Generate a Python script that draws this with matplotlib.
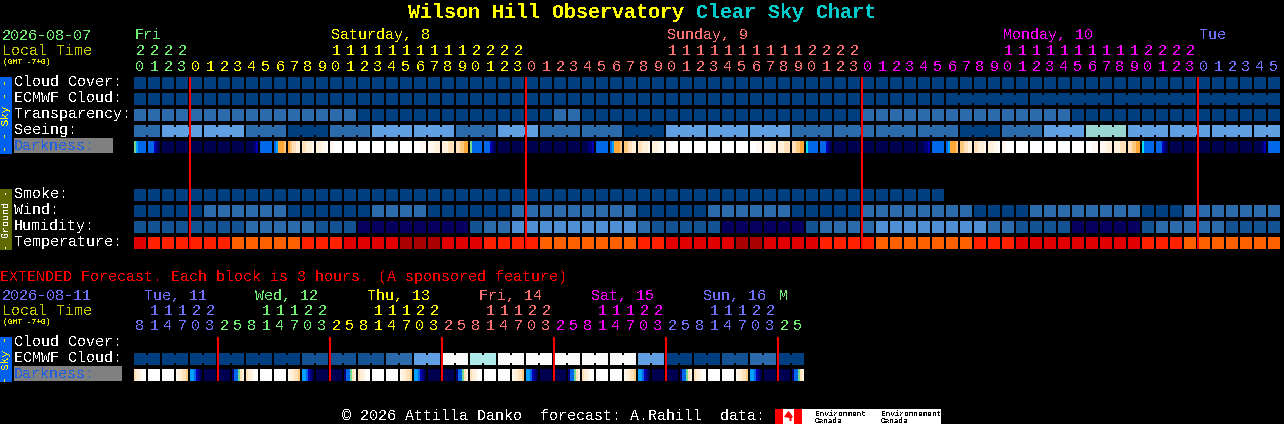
import matplotlib
matplotlib.use("Agg")
import matplotlib.pyplot as plt

plt.rcParams["text.hinting"] = "native"

# level colours used by the blocks
colors = {
    "D": "#003f7f", "E": "#135393", "M": "#2b6bab", "H": "#4f90d5", "L": "#60a0e2",
    "N": "#08005f", "T": "#99d6d2", "P": "#aeeaea", "W": "#fafafa",
    "r": "#e00000", "f": "#ff2000", "o": "#ff6000", "x": "#aa0000",
}
# darkness levels, each letter is 2 px of a block
dark_colors = {
    "a": "#000050", "b": "#00007f", "c": "#0000b8", "d": "#0068e8", "e": "#00a0ff",
    "f": "#00e0e8", "g": "#70d890", "h": "#ffa838", "i": "#ffc880", "j": "#ffe0b8",
    "k": "#fff0dc", "l": "#fff8f0", "m": "#ffffff",
}

cloud = "D" * 82
ecmwf = "D" * 82
transparency = "M" * 16 + "D" * 14 + "MM" + "D" * 20 + "M" * 15 + "D" * 15
seeing = ("MM" "LLL" "LLL" "MMM" "DDD" "MMM" "LLL" "LLL" "MMM" "LLL" "MMM" "MMM" "DDD" "LLL"
          "LLL" "LLL" "MMM" "MMM" "MMM" "MMM" "DDD" "MMM" "LLL" "TTT" "LLL" "LLL" "LLL" "LL")
smoke = "D" * 58
wind = ("DDDDD" "MMMMMM" "DDDDDD" "MMMM" "DDDDDD" "MMMMMMMMM" "DDDDD" "MMMMMM" "DDDDD"
        "MMMMMMMM" "DDDD" "MMMMMMMM" "DDD" "MMMMMMM")
humidity = ("EEEEEEEE" "MMMMM" "EEE" "NNNNNNNN" "E" "MM" "HHHHHHHHH" "M" "EEEEE" "NNNNNN" "E"
            "MMMM" "HHHHHHHH" "MM" "EEEE" "NNNNN" "E" "MMMMM" "EEEE")
temperature = ("r" "ffffff" "ooooo" "fff" "rrrr" "xxx" "rrr" "ffff" "ooooooo" "ff" "rrrrr" "xx"
               "rrrr" "ffff" "ooooooo" "fff" "rrrrrrrrr" "fff" "ooooooo")

ecmwf_groups = [1] * 58 + [6, 6, 6, 6]
seeing_groups = [2] + [3] * 26 + [2]

darkness = [
    "gedddd", "dddcba", "aaaaaa", "aaaaaa", "aaaaaa", "aaaaaa", "aaaaaa", "aaaaaa",
    "aaaabc", "dddddd", "dehhhi", "hijjkk", "jjkkkl", "kkkllm", "llmmmm", "mmmmmm",
    "mmmmmm", "mmmmmm", "mmmmmm", "mmmmmm", "mmmlll", "lllkkk", "kkkjjj", "jjiihh",
    "gddddd", "dddcba", "aaaaaa", "aaaaaa", "aaaaaa", "aaaaaa", "aaaaaa", "aaaaaa",
    "aaabbc", "dddddd", "dehhhi", "iijjkk", "jjkkkl", "kkkllm", "llmmmm", "mmmmmm",
    "mmmmmm", "mmmmmm", "mmmmmm", "mmmmmm", "mmmlll", "lllkkk", "kkkjjj", "jjiihh",
    "fddddd", "dddcba", "aaaaaa", "aaaaaa", "aaaaaa", "aaaaaa", "aaaaaa", "aaaaaa",
    "aaabbc", "dddddd", "dehhhi", "iijjkk", "jjkkkl", "kkkllm", "llmmmm", "mmmmmm",
    "mmmmmm", "mmmmmm", "mmmmmm", "mmmmmm", "mmmlll", "lllkkk", "kkkjjj", "jjiihh",
    "fddddd", "dddcba", "aaaaaa", "aaaaaa", "aaaaaa", "aaaaaa", "aaaaaa", "aaaaaa",
    "aaaabc", "dddddd",
]

ext_ecmwf = "DD" "DD" "DD" "DD" "DD" "DD" "EE" "EE" "EE" "MM" "LL" "WW" "PP" "WW" "WW" "WW" "WW" "WW" "LL" "DD" "DD" "EE" "MM" "DD"
ext_groups = [2] * 24
ext_darkness = [
    "jkklmm", "mmmmmm", "mmmmmm", "lkkjji", "eedcba", "aaaaaa", "aaaaaa", "bddgjk",
    "jkklmm", "mmmmmm", "mmmmmm", "lkkjji", "eedcba", "aaaaaa", "aaaaaa", "bddgjk",
    "jkklmm", "mmmmmm", "mmmmmm", "lkkjji", "eedcba", "aaaaaa", "aaaaaa", "bddgjk",
    "jkklmm", "mmmmmm", "mmmmmm", "lkkjji", "eedcba", "aaaaaa", "aaaaaa", "bddgjk",
    "jkklmm", "mmmmmm", "mmmmmm", "lkkjji", "eedcba", "aaaaaa", "aaaaaa", "bddgjk",
    "jkklmm", "mmmmmm", "mmmmmm", "lkkjji", "eedcba", "aaaaaa", "aaaaaa", "bddgjk",
]

GREEN = "#70f070"
YELLOW = "#ffff00"
SALMON = "#ff7070"
MAGENTA = "#ff00ff"
BLUE = "#7070ff"

top_days = [("Fri", 135, GREEN), ("Saturday, 8", 331, YELLOW), ("Sunday, 9", 667, SALMON),
            ("Monday, 10", 1003, MAGENTA), ("Tue", 1199, BLUE)]
top_tens = "2222" + ("          11111111112222" * 3) + "      "
top_ones = "0123" + ("012345678901234567890123" * 3) + "012345"
top_label_colors = [GREEN] * 4 + [YELLOW] * 24 + [SALMON] * 24 + [MAGENTA] * 24 + [BLUE] * 6

ext_days = [("Tue, 11", 144, BLUE), ("Wed, 12", 255, GREEN), ("Thu, 13", 367, YELLOW),
            ("Fri, 14", 479, SALMON), ("Sat, 15", 591, MAGENTA), ("Sun, 16", 703, BLUE), ("M", 779, GREEN)]
ext_tens = " 11122   11122   11122   11122   11122   11122  "
ext_ones = "81470325" * 6
ext_label_colors = [BLUE] * 6 + [GREEN] * 8 + [YELLOW] * 8 + [SALMON] * 8 + [MAGENTA] * 8 + [BLUE] * 8 + [GREEN] * 2

X0 = 134
PITCH = 14
SIZE = 12
FONT = "Liberation Mono"

fig = plt.figure(figsize=(12.84, 4.24), dpi=100, facecolor="black")
ax = fig.add_axes([0, 0, 1, 1])
ax.set_xlim(0, 1284)
ax.set_ylim(424, 0)
ax.axis("off")


def txt(x, y, s, color="white", px=15, **kw):
    kw.setdefault("family", FONT)
    ax.text(x, y, s, color=color, fontsize=px * 0.72, va="baseline", antialiased=False, **kw)


def block_row(levels, top, groups=None):
    xs = [X0 + PITCH * i for i in range(len(levels))]
    ax.bar(xs, SIZE, width=SIZE, bottom=top, align="edge", linewidth=0, antialiased=False,
           color=[colors[c] for c in levels])
    if groups is None:
        return
    # joined blocks get a short bridge over the gap
    i = 0
    for n in groups:
        for j in range(i, i + n - 1):
            ax.bar(X0 + PITCH * j + SIZE, SIZE - 4, width=2, bottom=top + 2, align="edge",
                   linewidth=0, antialiased=False, color=colors[levels[j]])
        i += n


def dark_row(cells, top):
    for i, cell in enumerate(cells):
        xs = [X0 + PITCH * i + 2 * k for k in range(len(cell))]
        ax.bar(xs, SIZE, width=2, bottom=top, align="edge", linewidth=0, antialiased=False,
               color=[dark_colors[c] for c in cell])


def side_bar(top, bottom, color, text, text_color, px):
    ax.bar(0, bottom - top, width=12, bottom=top, align="edge", linewidth=0, color=color, antialiased=False)
    ax.text(6.5, (top + bottom) / 2, text, color=text_color, fontsize=px * 0.72, family=FONT, rotation=90,
            ha="center", va="center", antialiased=False)


def hour_rows(tens, ones, label_colors, y_tens, y_ones):
    for i, (t, o) in enumerate(zip(tens, ones)):
        x = X0 + PITCH * i + 6
        if t != " ":
            txt(x, y_tens, t, label_colors[i], ha="center")
        txt(x, y_ones, o, label_colors[i], ha="center")


# title
txt(408, 18, "Wilson Hill Observatory", "#ffff00", px=20, fontweight="bold")
txt(696, 18, "Clear Sky Chart", "#00cccc", px=20, fontweight="bold")

# main chart header
txt(2, 40, "2026-08-07", GREEN)
txt(2, 55, "Local Time", "#c8c800")
txt(3, 64, "(GMT -7+0)", "#e8e800", px=8)
for name, x, c in top_days:
    txt(x, 39, name, c)
hour_rows(top_tens, top_ones, top_label_colors, 55, 71)

# main chart rows
for label, y in zip(["Cloud Cover:", "ECMWF Cloud:", "Transparency:", "Seeing:"], [86, 102, 118, 134]):
    txt(14, y, label)
ax.bar(14, 15, width=99, bottom=138, align="edge", linewidth=0, color="#808080", antialiased=False)
txt(14, 150, "Darkness:", "#2060e0")
for label, y in zip(["Smoke:", "Wind:", "Humidity:", "Temperature:"], [198, 214, 230, 246]):
    txt(14, y, label)

block_row(cloud, 77)
block_row(ecmwf, 93, ecmwf_groups)
block_row(transparency, 109)
block_row(seeing, 125, seeing_groups)
dark_row(darkness, 141)
block_row(smoke, 189)
block_row(wind, 205)
block_row(humidity, 221)
block_row(temperature, 237)

side_bar(77, 154, "#0060f0", "- - Sky - -", "#ffff00", 11)
side_bar(189, 250, "#5f6a00", "- Ground -", "white", 10)

for i in [4, 28, 52, 76]:
    ax.bar(X0 + PITCH * i - 1, 172, width=2, bottom=77, align="edge", linewidth=0, color="#ff0000", antialiased=False)

# extended forecast
txt(0, 281, "EXTENDED Forecast. Each block is 3 hours. (A sponsored feature)", "#ff0000")
txt(2, 300, "2026-08-11", BLUE)
txt(2, 315, "Local Time", "#c8c800")
txt(3, 324, "(GMT -7+0)", "#e8e800", px=8)
for name, x, c in ext_days:
    txt(x, 300, name, c)
hour_rows(ext_tens, ext_ones, ext_label_colors, 315, 330)

txt(14, 346, "Cloud Cover:")
txt(14, 362, "ECMWF Cloud:")
ax.bar(14, 15, width=108, bottom=366, align="edge", linewidth=0, color="#808080", antialiased=False)
txt(14, 378, "Darkness:", "#2060e0")

block_row(ext_ecmwf, 353, ext_groups)
dark_row(ext_darkness, 369)
side_bar(337, 382, "#0060f0", "- Sky -", "#ffff00", 11)

for i in [6, 14, 22, 30, 38, 46]:
    ax.bar(X0 + PITCH * i - 1, 44, width=2, bottom=337, align="edge", linewidth=0, color="#ff0000", antialiased=False)

# footer and data credit
txt(342, 420, "\u00a9 2026 Attilla Danko  forecast: A.Rahill  data:")
ax.bar(775, 15, width=166, bottom=409, align="edge", linewidth=0, color="white", antialiased=False)
ax.bar([775, 794], 15, width=8, bottom=409, align="edge", linewidth=0, color="#ff0000", antialiased=False)
ax.fill([788.5, 791, 793, 791.5, 791.5, 789.5, 789.5, 784, 786], [411, 414, 417, 418, 421, 421, 418, 417, 414],
        color="#ff0000", linewidth=0)
for x, word in [(815, "Environment"), (881, "Environnement")]:
    txt(x, 416, word, "black", px=7.7)
    txt(x, 423, "Canada", "black", px=7.7)

fig.savefig("out.png", dpi=100, facecolor="black")
